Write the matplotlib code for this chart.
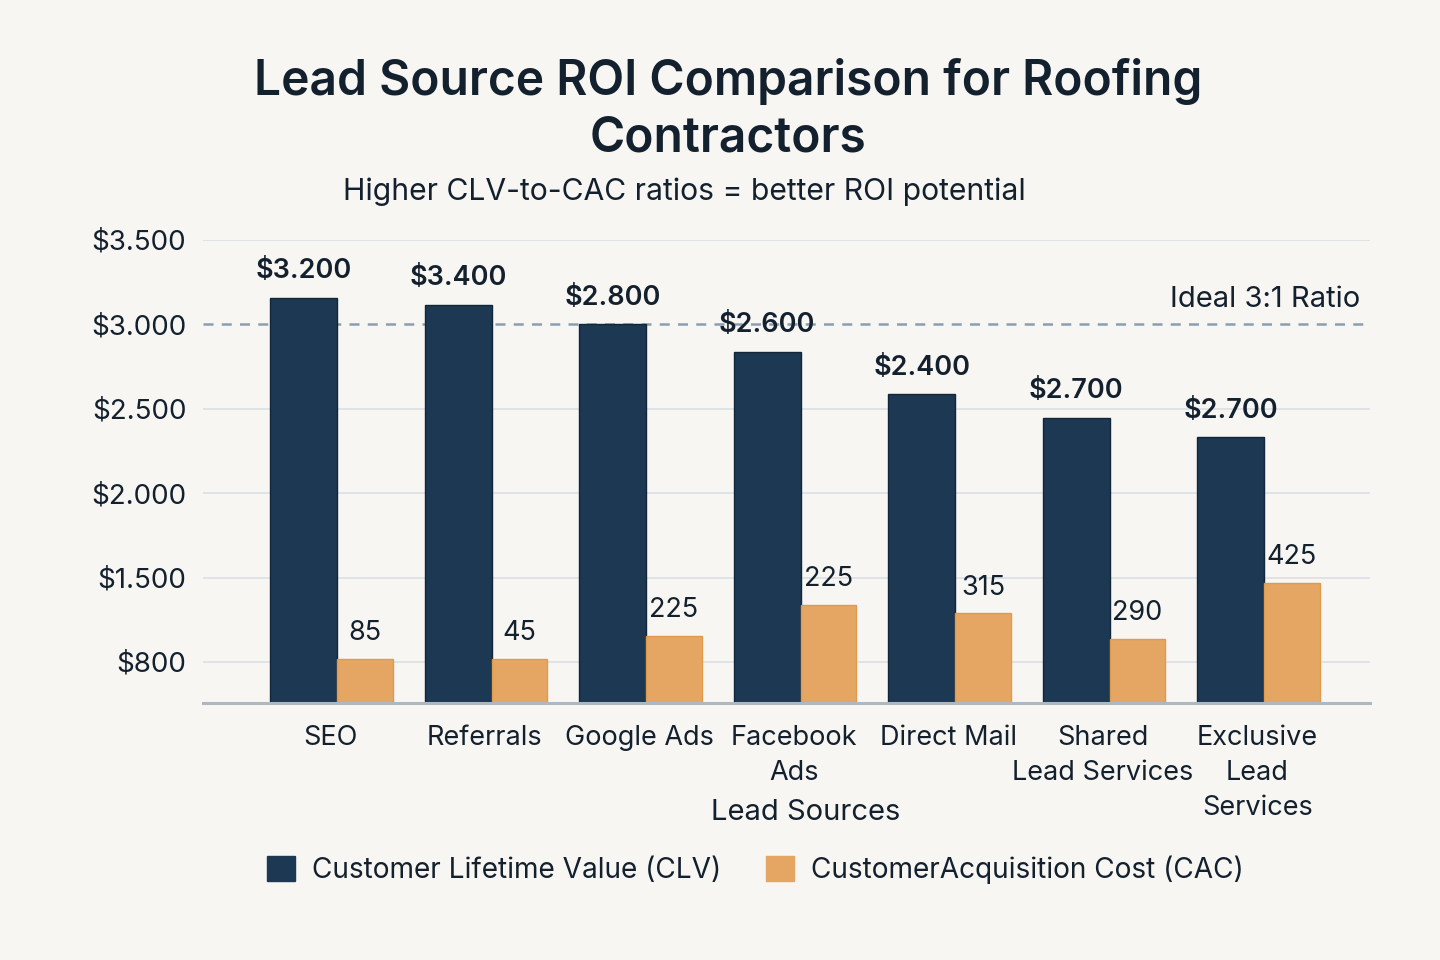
import matplotlib
matplotlib.use("Agg")
import matplotlib.pyplot as plt
from matplotlib.patches import Patch
import numpy as np

plt.rcParams['font.family'] = ['Inter', 'DejaVu Sans']

categories = ["SEO", "Referrals", "Google Ads", "Facebook\nAds", "Direct Mail",
              "Shared\nLead Services", "Exclusive\nLead\nServices"]
# bar heights as drawn on the axis
clv_heights = [3155, 3115, 3000, 2835, 2585, 2445, 2330]
cac_heights = [1018, 1018, 1155, 1338, 1290, 1137, 1468]
# value labels as printed
clv_labels = ["$3.200", "$3.400", "$2.800", "$2.600", "$2.400", "$2.700", "$2.700"]
cac_labels = ["85", "45", "225", "225", "315", "290", "425"]
ytick_values = [1000, 1500, 2000, 2500, 3000, 3500]
ytick_labels = ["$800", "$1.500", "$2.000", "$2.500", "$3.000", "$3.500"]
ideal_line = 3000

navy = "#1d3853"
orange = "#e5a663"
text_c = "#13202e"
bg = "#f8f6f2"

fig = plt.figure(figsize=(14.4, 9.6), dpi=100, facecolor=bg)
W, H = 1440, 960
ax = fig.add_axes([203 / W, 1 - 703 / H, (1370 - 203) / W, (703 - 240) / H])
ax.set_facecolor(bg)

x = np.arange(len(categories))
clv_w = 0.434
cac_w = 0.36
ax.bar(x - 0.388, clv_heights, width=clv_w, align='edge', color=navy,
       edgecolor="#12263a", linewidth=1.0, zorder=3)
ax.bar(x + 0.045, cac_heights, width=cac_w, align='edge', color=orange,
       edgecolor="#e09a4c", linewidth=1.0, zorder=3)

ax.set_ylim(757, 3500)
ax.set_xlim(-0.822, 6.73)
for yv in ytick_values:
    if yv != ideal_line:
        ax.axhline(yv, color="#dde2e6", linewidth=1.3, zorder=1)
ax.axhline(ideal_line, color="#8d9daf", linewidth=1.8, linestyle=(0, (4, 3.3)), zorder=2)
ax.axhline(757, color="#aeb8c2", linewidth=2.2, zorder=4, clip_on=False)

ax.set_yticks(ytick_values)
ax.set_yticklabels(ytick_labels, fontsize=20, color=text_c)
ax.set_xticks(x)
ax.set_xticklabels(categories, fontsize=19.5, color=text_c, linespacing=1.45)
ax.tick_params(axis='both', length=0)
ax.tick_params(axis='y', pad=12)
ax.tick_params(axis='x', pad=16)
for s in ax.spines.values():
    s.set_visible(False)

for i in range(len(categories)):
    ax.annotate(clv_labels[i], (x[i] - 0.388 + clv_w / 2, clv_heights[i]),
                xytext=(0, 10), textcoords='offset points', ha='center', va='bottom',
                fontsize=19.5, fontweight='semibold', color=text_c, zorder=5)
    ax.annotate(cac_labels[i], (x[i] + 0.045 + cac_w / 2, cac_heights[i]),
                xytext=(0, 9), textcoords='offset points', ha='center', va='bottom',
                fontsize=19.5, color=text_c, zorder=5)

ax.text(6.665, ideal_line + 65, "Ideal 3:1 Ratio", ha='right', va='bottom',
        fontsize=21, color=text_c)

fig.text(728 / W, 1 - 110 / H, "Lead Source ROI Comparison for Roofing\nContractors",
         ha='center', va='center', fontsize=34.5, fontweight='semibold', color=text_c,
         linespacing=1.28)
fig.text(684 / W, 1 - 192 / H, "Higher CLV-to-CAC ratios = better ROI potential",
         ha='center', va='center', fontsize=21.7, color=text_c)
fig.text(806 / W, 1 - 812 / H, "Lead Sources", ha='center', va='center',
         fontsize=21, color=text_c)

handles = [Patch(facecolor=navy, edgecolor=navy), Patch(facecolor=orange, edgecolor=orange)]
leg = fig.legend(handles, ["Customer Lifetime Value (CLV)", "CustomerAcquisition Cost (CAC)"],
                 loc='center', bbox_to_anchor=(755 / W, 1 - 870 / H), ncol=2,
                 frameon=False, fontsize=20.2, handlelength=1.0, handleheight=1.0,
                 columnspacing=1.6, handletextpad=0.6)
for t in leg.get_texts():
    t.set_color(text_c)

fig.savefig("out.png", dpi=100, facecolor=bg)
